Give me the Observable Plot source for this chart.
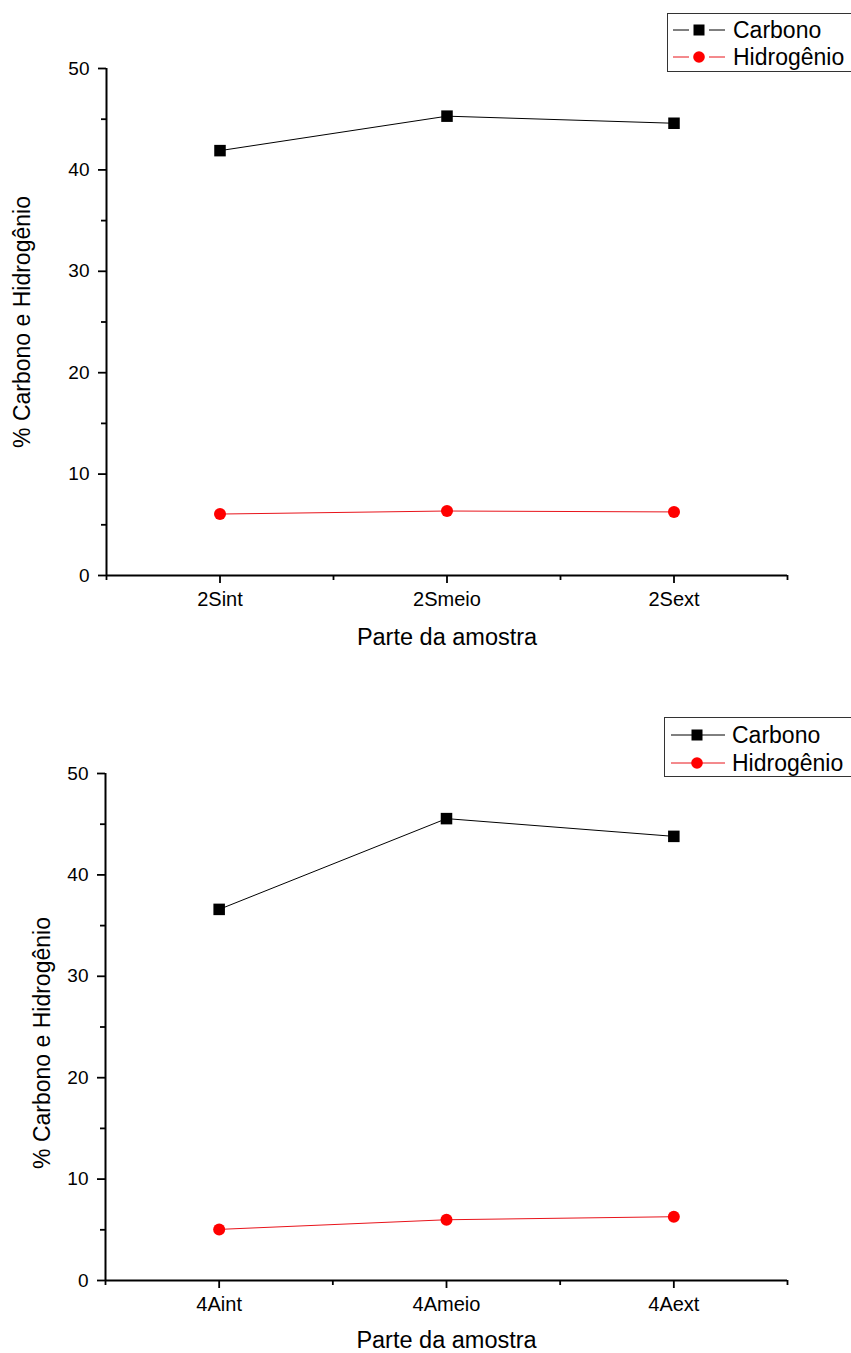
<!DOCTYPE html>
<html><head><meta charset="utf-8">
<script src="https://cdn.jsdelivr.net/npm/d3@7"></script>
<script src="https://cdn.jsdelivr.net/npm/@observablehq/plot@0.6"></script>
<style>
body{margin:0;background:#fff;font-family:"Liberation Sans",Arial,sans-serif;}
#wrap{position:relative;width:851px;height:1353px;overflow:hidden;background:#fff;}
.chart{position:absolute;left:0;}
.legend{position:absolute;}
</style></head><body><div id="wrap"></div>
<script>
// ---- data ----
const categoriesTop = ["2Sint", "2Smeio", "2Sext"];
const carbonoTop = [41.9, 45.3, 44.6];
const hidrogenioTop = [6.06, 6.36, 6.27];

const categoriesBottom = ["4Aint", "4Ameio", "4Aext"];
const carbonoBottom = [36.6, 45.55, 43.8];
const hidrogenioBottom = [5.04, 5.99, 6.29];

const yTicks = [0, 10, 20, 30, 40, 50];
const yMinorTicks = [5, 15, 25, 35, 45];
const xMinorTicks = [-0.5, 0.5, 1.5, 2.5];
const seriesNames = ["Carbono", "Hidrogênio"];
const xLabel = "Parte da amostra";
const yLabel = "% Carbono e Hidrogênio";

const FONT = "'Liberation Sans', Arial, sans-serif";
const wrap = document.getElementById("wrap");

function makeChart(cats, carb, hid, o) {
  const rows = cats.map((c, i) => ({i, cat: c, carbono: carb[i], hidrogenio: hid[i]}));
  const chart = Plot.plot({
    width: 851,
    height: o.height,
    marginLeft: o.left,
    marginRight: 851 - 787,
    marginTop: o.top,
    marginBottom: o.bottom,
    style: {fontFamily: FONT, color: "#000", background: "transparent", overflow: "visible"},
    x: {type: "linear", domain: [-0.5, 2.5], axis: null},
    y: {domain: [0, 50], axis: null},
    marks: [
      Plot.axisY({ticks: yTicks, anchor: "left", tickSize: 8, tickPadding: 9, fontSize: 19, strokeWidth: 1.8, label: null}),
      Plot.axisY({ticks: yMinorTicks, anchor: "left", tickSize: 5, tickFormat: () => "", strokeWidth: 1.8, label: null}),
      Plot.axisX({ticks: [0, 1, 2], anchor: "bottom", tickSize: 8, tickPadding: 8, fontSize: 20, strokeWidth: 1.8, tickFormat: i => cats[i], label: null}),
      Plot.axisX({ticks: xMinorTicks, anchor: "bottom", tickSize: 5, tickFormat: () => "", strokeWidth: 1.8, label: null}),
      Plot.ruleX([-0.5], {stroke: "#000", strokeWidth: 2}),
      Plot.ruleY([0], {stroke: "#000", strokeWidth: 2}),
      Plot.line(rows, {x: "i", y: "carbono", stroke: "#000", strokeWidth: 1}),
      Plot.line(rows, {x: "i", y: "hidrogenio", stroke: "#e8141b", strokeWidth: 1}),
      Plot.dot(rows, {x: "i", y: "carbono", symbol: "square", fill: "#000", r: 6.5}),
      Plot.dot(rows, {x: "i", y: "hidrogenio", symbol: "circle", fill: "#ff0000", r: 6}),
      Plot.text([xLabel], {text: d => d, frameAnchor: "bottom", textAnchor: "middle", lineAnchor: "middle", dy: o.xlabDy, fontSize: 23.5}),
      Plot.text([yLabel], {text: d => d, frameAnchor: "left", textAnchor: "middle", lineAnchor: "middle", dx: o.ylabDx, dy: o.ylabDy, rotate: -90, fontSize: 23})
    ]
  });
  chart.classList.add("chart");
  chart.style.top = o.y + "px";
  chart.style.position = "absolute";
  wrap.appendChild(chart);
}

function makeLegend(o) {
  const svg = d3.create("svg").attr("class", "legend")
    .attr("width", o.w).attr("height", o.h)
    .style("left", o.x + "px").style("top", o.y + "px")
    .style("position", "absolute").style("overflow", "visible");
  svg.append("rect").attr("x", 0.5).attr("y", 0.5).attr("width", o.w).attr("height", o.h - 1)
    .attr("fill", "#fff").attr("stroke", "#333").attr("stroke-width", 1);
  const colors = ["#000", "#e8141b"];
  const fills = ["#000", "#ff0000"];
  seriesNames.forEach((name, k) => {
    const cy = o.rows[k];
    if (o.gaps) {
      svg.append("line").attr("x1", o.l0).attr("x2", o.mx - 10).attr("y1", cy).attr("y2", cy).attr("stroke", colors[k]);
      svg.append("line").attr("x1", o.mx + 10).attr("x2", o.l1).attr("y1", cy).attr("y2", cy).attr("stroke", colors[k]);
    } else {
      svg.append("line").attr("x1", o.l0).attr("x2", o.l1).attr("y1", cy).attr("y2", cy).attr("stroke", colors[k]);
    }
    if (k === 0) {
      svg.append("rect").attr("x", o.mx - 5.5).attr("y", cy - 5.5).attr("width", 11).attr("height", 11).attr("fill", fills[k]);
    } else {
      svg.append("circle").attr("cx", o.mx).attr("cy", cy).attr("r", 5.8).attr("fill", fills[k]);
    }
    svg.append("text").attr("x", o.tx).attr("y", cy + 8).attr("font-size", 23)
      .attr("font-family", FONT).attr("fill", "#000").text(name);
  });
  wrap.appendChild(svg.node());
}

makeChart(categoriesTop, carbonoTop, hidrogenioTop,
  {y: 0, height: 660, left: 106, top: 68, bottom: 85, ylabDx: -84, ylabDy: 0, xlabDy: 62});
makeChart(categoriesBottom, carbonoBottom, hidrogenioBottom,
  {y: 700, height: 653, left: 105, top: 73, bottom: 73, ylabDx: -63, ylabDy: 16, xlabDy: 60});

makeLegend({x: 667, y: 13, w: 186, h: 59, rows: [17, 44], gaps: true, l0: 6, l1: 58, mx: 32, tx: 66});
makeLegend({x: 664, y: 717, w: 189, h: 60, rows: [18, 46], gaps: false, l0: 7, l1: 61, mx: 33, tx: 68});
</script></body></html>
